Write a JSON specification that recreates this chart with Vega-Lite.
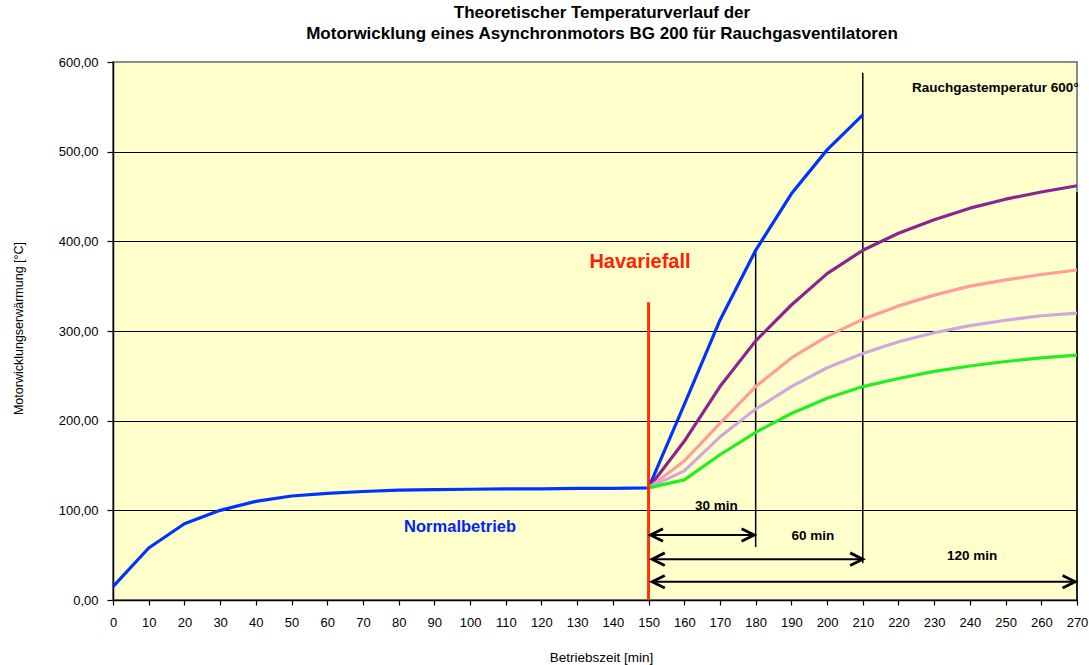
{
  "$schema": "https://vega.github.io/schema/vega-lite/v6.json",
  "width": 964,
  "height": 538,
  "autosize": {"type": "none"},
  "padding": {"left": 113, "top": 62, "right": 12, "bottom": 65},
  "background": "white",
  "config": {
    "font": "Liberation Sans",
    "view": {"fill": "#FFFFCC", "stroke": "#8C8C8C", "strokeWidth": 2}
  },
  "title": {
    "text": ["Theoretischer Temperaturverlauf der", "Motorwicklung eines Asynchronmotors BG 200  für Rauchgasventilatoren"],
    "font": "Liberation Sans",
    "fontSize": 17,
    "fontWeight": "bold",
    "color": "black",
    "anchor": "middle",
    "dx": 7,
    "offset": 13,
    "lineHeight": 21
  },
  "datasets": {
    "curves": [
      {"t": 0, "v": 15, "s": "blau"}, {"t": 10, "v": 58, "s": "blau"}, {"t": 20, "v": 85, "s": "blau"},
      {"t": 30, "v": 100, "s": "blau"}, {"t": 40, "v": 110, "s": "blau"}, {"t": 50, "v": 116, "s": "blau"},
      {"t": 60, "v": 119, "s": "blau"}, {"t": 70, "v": 121, "s": "blau"}, {"t": 80, "v": 122.5, "s": "blau"},
      {"t": 90, "v": 123, "s": "blau"}, {"t": 100, "v": 123.5, "s": "blau"}, {"t": 110, "v": 124, "s": "blau"},
      {"t": 120, "v": 124, "s": "blau"}, {"t": 130, "v": 124.5, "s": "blau"}, {"t": 140, "v": 124.5, "s": "blau"},
      {"t": 150, "v": 125, "s": "blau"}, {"t": 160, "v": 218, "s": "blau"}, {"t": 170, "v": 312, "s": "blau"},
      {"t": 180, "v": 390, "s": "blau"}, {"t": 190, "v": 453, "s": "blau"}, {"t": 200, "v": 502, "s": "blau"},
      {"t": 210, "v": 541, "s": "blau"},
      {"t": 150, "v": 125, "s": "lila"}, {"t": 160, "v": 177, "s": "lila"}, {"t": 170, "v": 238, "s": "lila"},
      {"t": 180, "v": 289, "s": "lila"}, {"t": 190, "v": 329, "s": "lila"}, {"t": 200, "v": 364, "s": "lila"},
      {"t": 210, "v": 390, "s": "lila"}, {"t": 220, "v": 409, "s": "lila"}, {"t": 230, "v": 424, "s": "lila"},
      {"t": 240, "v": 437, "s": "lila"}, {"t": 250, "v": 447, "s": "lila"}, {"t": 260, "v": 455, "s": "lila"},
      {"t": 270, "v": 462, "s": "lila"},
      {"t": 150, "v": 125, "s": "rosa"}, {"t": 160, "v": 155, "s": "rosa"}, {"t": 170, "v": 197, "s": "rosa"},
      {"t": 180, "v": 238, "s": "rosa"}, {"t": 190, "v": 270, "s": "rosa"}, {"t": 200, "v": 294, "s": "rosa"},
      {"t": 210, "v": 313, "s": "rosa"}, {"t": 220, "v": 328, "s": "rosa"}, {"t": 230, "v": 340, "s": "rosa"},
      {"t": 240, "v": 350, "s": "rosa"}, {"t": 250, "v": 357, "s": "rosa"}, {"t": 260, "v": 363, "s": "rosa"},
      {"t": 270, "v": 368, "s": "rosa"},
      {"t": 150, "v": 125, "s": "flieder"}, {"t": 160, "v": 144, "s": "flieder"}, {"t": 170, "v": 182, "s": "flieder"},
      {"t": 180, "v": 213, "s": "flieder"}, {"t": 190, "v": 238, "s": "flieder"}, {"t": 200, "v": 259, "s": "flieder"},
      {"t": 210, "v": 275, "s": "flieder"}, {"t": 220, "v": 288, "s": "flieder"}, {"t": 230, "v": 298, "s": "flieder"},
      {"t": 240, "v": 306, "s": "flieder"}, {"t": 250, "v": 312, "s": "flieder"}, {"t": 260, "v": 317, "s": "flieder"},
      {"t": 270, "v": 320, "s": "flieder"},
      {"t": 150, "v": 125, "s": "gruen"}, {"t": 160, "v": 134, "s": "gruen"}, {"t": 170, "v": 162, "s": "gruen"},
      {"t": 180, "v": 187, "s": "gruen"}, {"t": 190, "v": 208, "s": "gruen"}, {"t": 200, "v": 225, "s": "gruen"},
      {"t": 210, "v": 238, "s": "gruen"}, {"t": 220, "v": 247, "s": "gruen"}, {"t": 230, "v": 255, "s": "gruen"},
      {"t": 240, "v": 261, "s": "gruen"}, {"t": 250, "v": 266, "s": "gruen"}, {"t": 260, "v": 270, "s": "gruen"},
      {"t": 270, "v": 273, "s": "gruen"}
    ],
    "vlines": [
      {"t": 180, "v": 59, "v2": 390},
      {"t": 210, "v": 41, "v2": 588},
      {"t": 270, "v": 0, "v2": 455}
    ],
    "redline": [{"t": 150, "v": 0, "v2": 332}],
    "arrows": [
      {"t": 150.5, "t2": 179.6, "v": 72.5},
      {"t": 151, "t2": 210, "v": 45.5},
      {"t": 151, "t2": 269.5, "v": 20.4}
    ],
    "heads": [
      {"t": 150.5, "v": 72.5, "d": "L"}, {"t": 179.6, "v": 72.5, "d": "R"},
      {"t": 151, "v": 45.5, "d": "L"}, {"t": 210, "v": 45.5, "d": "R"},
      {"t": 151, "v": 20.4, "d": "L"}, {"t": 269.5, "v": 20.4, "d": "R"}
    ],
    "minlabels": [
      {"t": 169, "v": 105, "txt": "30 min"},
      {"t": 196, "v": 71.4, "txt": "60 min"},
      {"t": 240.6, "v": 49.4, "txt": "120 min"}
    ],
    "rauch": [{"t": 223.8, "v": 571, "txt": "Rauchgastemperatur 600°"}],
    "havarie": [{"t": 147.6, "v": 377, "txt": "Havariefall"}],
    "normal": [{"t": 97.2, "v": 81, "txt": "Normalbetrieb"}]
  },
  "encoding": {
    "x": {
      "field": "t", "type": "quantitative",
      "scale": {"domain": [0, 270], "nice": false, "zero": false},
      "axis": {
        "values": [0,10,20,30,40,50,60,70,80,90,100,110,120,130,140,150,160,170,180,190,200,210,220,230,240,250,260,270],
        "grid": false,
        "labelOverlap": false, "labelFlush": false, "labelBound": false,
        "domainColor": "black", "domainWidth": 1.5,
        "tickColor": "black", "tickSize": 5, "tickWidth": 1.2,
        "labelFontSize": 13, "labelColor": "black", "labelPadding": 11,
        "labelFont": "Liberation Sans",
        "title": "Betriebszeit [min]",
        "titleFont": "Liberation Sans", "titleFontSize": 13.5, "titleFontWeight": "normal", "titleColor": "black",
        "titleX": 488, "titleY": 57, "titleBaseline": "middle"
      }
    },
    "y": {
      "field": "v", "type": "quantitative",
      "scale": {"domain": [0, 600], "nice": false},
      "axis": {
        "values": [0, 100, 200, 300, 400, 500, 600],
        "grid": true,
        "labelOverlap": false, "labelFlush": false, "labelBound": false,
        "gridColor": {"condition": {"test": "datum.value == 600", "value": "#8C8C8C"}, "value": "black"},
        "gridWidth": 1.2,
        "domainColor": "black", "domainWidth": 1.5,
        "tickColor": "black", "tickSize": 6, "tickWidth": 1.2,
        "labelFontSize": 13, "labelColor": "black", "labelPadding": 9,
        "labelFont": "Liberation Sans",
        "labelExpr": "replace(format(datum.value, '.2f'), '.', ',')",
        "title": "Motorwicklungserwärmung [°C]",
        "titleFont": "Liberation Sans", "titleFontSize": 12.5, "titleFontWeight": "normal", "titleColor": "black",
        "titleX": -95, "titleY": 266, "titleAngle": -90, "titleAlign": "center", "titleBaseline": "middle"
      }
    }
  },
  "layer": [
    {
      "data": {"name": "vlines"},
      "mark": {"type": "rule", "color": "black", "strokeWidth": 1.5},
      "encoding": {"y2": {"field": "v2"}}
    },
    {
      "data": {"name": "curves"},
      "mark": {"type": "line", "strokeWidth": 3.2, "strokeJoin": "round"},
      "encoding": {
        "color": {
          "field": "s", "type": "nominal",
          "scale": {"domain": ["gruen", "flieder", "rosa", "lila", "blau"], "range": ["#22EE22", "#D0A8DC", "#FF9C9C", "#8B2491", "#0033FF"]},
          "legend": null
        },
        "order": {"field": "t"}
      }
    },
    {
      "data": {"name": "redline"},
      "mark": {"type": "rule", "color": "#FF3300", "strokeWidth": 3},
      "encoding": {"y2": {"field": "v2"}}
    },
    {
      "data": {"name": "arrows"},
      "mark": {"type": "rule", "color": "black", "strokeWidth": 2},
      "encoding": {"x2": {"field": "t2"}}
    },
    {
      "data": {"name": "heads"},
      "mark": {"type": "point", "filled": false, "stroke": "black", "strokeWidth": 2.8, "size": 160, "opacity": 1},
      "encoding": {
        "shape": {
          "field": "d", "type": "nominal",
          "scale": {"domain": ["L", "R"], "range": ["M 2 -1 L 0 0 L 2 1", "M -2 -1 L 0 0 L -2 1"]},
          "legend": null
        }
      }
    },
    {
      "data": {"name": "minlabels"},
      "mark": {"type": "text", "fontSize": 13.5, "fontWeight": "bold", "color": "black", "align": "center", "baseline": "middle"},
      "encoding": {"text": {"field": "txt"}}
    },
    {
      "data": {"name": "rauch"},
      "mark": {"type": "text", "fontSize": 13.5, "fontWeight": "bold", "color": "black", "align": "left", "baseline": "middle"},
      "encoding": {"text": {"field": "txt"}}
    },
    {
      "data": {"name": "havarie"},
      "mark": {"type": "text", "fontSize": 20, "fontWeight": "bold", "color": "#FF2200", "align": "center", "baseline": "middle"},
      "encoding": {"text": {"field": "txt"}}
    },
    {
      "data": {"name": "normal"},
      "mark": {"type": "text", "fontSize": 16.5, "fontWeight": "bold", "color": "#0022FF", "align": "center", "baseline": "middle"},
      "encoding": {"text": {"field": "txt"}}
    }
  ]
}
